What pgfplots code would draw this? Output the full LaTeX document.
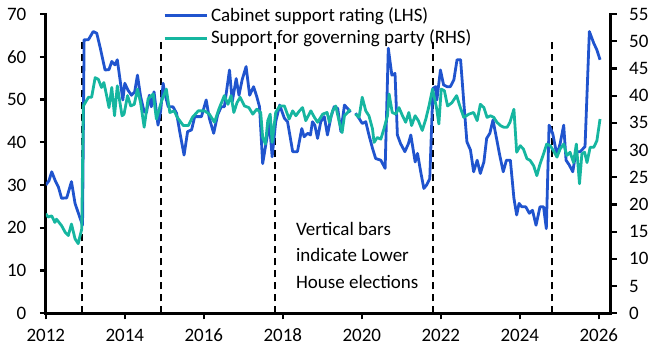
\documentclass[border=0pt]{standalone}
\usepackage{fontspec}
\setmainfont{Carlito}
\usepackage{pgfplots}
\pgfplotsset{compat=1.18}
\definecolor{cblue}{RGB}{32,84,206}
\definecolor{cteal}{RGB}{22,182,160}
\begin{document}
\fontsize{19bp}{23bp}\selectfont
\begin{tikzpicture}
\pgfplotsset{
  common/.style={
    scale only axis, width=564.9bp, height=299.3bp,
    xmin=2012, xmax=2026.3,
    /pgf/number format/assume math mode=true,
    /pgf/number format/1000 sep={},
    font=\fontsize{19bp}{23bp}\selectfont,
    tick align=outside, major tick length=6bp,
    tick style={black, line width=2.2bp},
    axis line style={black, line width=2.8bp, line cap=rect},
    unbounded coords=jump,
  }
}
\begin{axis}[common, name=lhs,
  ymin=0, ymax=70, ytick={0,10,...,70},
  axis x line*=bottom, axis y line*=left,
  xtick={2012,2014,...,2026},
  yticklabel style={xshift=-7bp},
  xticklabel style={yshift=-3bp},
]
\addplot[black, line width=2.2bp, dash pattern=on 7bp off 5bp] coordinates {
(2012.92,0) (2012.92,63.64) (2012.93,nan)
(2014.92,0) (2014.92,63.64) (2014.93,nan)
(2017.80,0) (2017.80,63.64) (2017.81,nan)
(2021.81,0) (2021.81,63.64) (2021.82,nan)
(2024.82,0) (2024.82,63.64)};
\addplot[cblue, line width=2.8bp, line join=round] coordinates {
(2012.00,30) (2012.08,31) (2012.15,33.1) (2012.24,31) (2012.32,29.5) (2012.40,26.9) (2012.53,27) (2012.65,30.8) (2012.74,25.7) (2012.87,22.2) (2012.93,20.6) (2012.97,64) (2013.08,64) (2013.20,65.9) (2013.29,65.5) (2013.38,62) (2013.50,56.9) (2013.60,57) (2013.67,58.9) (2013.75,58.1) (2013.81,59.3) (2013.95,49.9) (2014.00,53.8) (2014.08,52.2) (2014.17,51) (2014.25,51.8) (2014.32,55.7) (2014.40,50.7) (2014.49,47.1) (2014.55,47) (2014.62,51) (2014.67,48.3) (2014.74,51.8) (2014.84,44) (2014.91,47.5) (2014.97,53.8) (2015.01,51.5) (2015.10,48.3) (2015.22,48.3) (2015.31,46.8) (2015.39,42.5) (2015.50,37) (2015.59,42.5) (2015.69,42.9) (2015.77,46) (2015.94,46) (2016.06,49.9) (2016.14,45.6) (2016.25,42.1) (2016.35,46.4) (2016.44,48.3) (2016.52,48.3) (2016.65,56.9) (2016.72,49.5) (2016.82,54.9) (2016.89,51) (2016.97,54.6) (2017.07,57.7) (2017.16,51) (2017.26,53) (2017.34,50.7) (2017.41,48.3) (2017.49,35) (2017.58,40.1) (2017.66,44.4) (2017.73,36.6) (2017.82,44.8) (2017.92,48.7) (2018.04,45.6) (2018.12,44.8) (2018.25,37.8) (2018.37,37.8) (2018.48,43.2) (2018.54,41.3) (2018.63,42.1) (2018.70,41.7) (2018.75,44.8) (2018.81,44) (2018.88,40.9) (2018.96,44.8) (2019.05,46) (2019.13,41.7) (2019.22,46) (2019.30,48.3) (2019.39,47.9) (2019.47,42.5) (2019.56,48.7) (2019.64,47.9) (2019.71,47) (2019.78,nan) (2019.84,46.8) (2019.93,45.6) (2020.01,44.4) (2020.10,44.8) (2020.18,41.7) (2020.27,38.6) (2020.35,36.2) (2020.48,35.8) (2020.59,33.9) (2020.67,62) (2020.76,55.7) (2020.84,56.1) (2020.90,41.7) (2020.98,39.7) (2021.09,37.8) (2021.18,39.7) (2021.24,41.7) (2021.35,35.4) (2021.41,37.4) (2021.49,33.1) (2021.57,29.2) (2021.64,30) (2021.72,31.5) (2021.80,52.6) (2021.87,53) (2021.90,49.9) (2021.99,56.9) (2022.07,53.4) (2022.16,53) (2022.24,53) (2022.33,54.6) (2022.41,59.3) (2022.50,59.3) (2022.58,49.5) (2022.66,40.1) (2022.75,38.2) (2022.83,33.1) (2022.92,35.8) (2023.00,32.7) (2023.09,35.4) (2023.16,40.9) (2023.24,42.1) (2023.32,45.2) (2023.41,40.9) (2023.49,37) (2023.58,33.1) (2023.66,35.8) (2023.76,35.8) (2023.85,26.9) (2023.92,23) (2023.98,25.7) (2024.05,24.9) (2024.15,24.9) (2024.24,23.4) (2024.32,24.1) (2024.41,20.6) (2024.51,24.9) (2024.60,24.9) (2024.67,19.8) (2024.74,44) (2024.83,42.1) (2024.94,37) (2025.02,39.7) (2025.11,44) (2025.17,35.8) (2025.25,34.7) (2025.34,33.1) (2025.42,37.8) (2025.53,37.8) (2025.65,39) (2025.76,65.9) (2025.87,63.2) (2025.95,61.6) (2026.03,59.3)};
\node[anchor=base west, align=left, inner sep=0pt, font=\fontsize{19bp}{26.5bp}\selectfont] at (axis cs:2018.33,5.9) {Vertical bars\\indicate Lower\\House elections};
\end{axis}
\begin{axis}[common,
  ymin=0, ymax=55, ytick={0,5,...,55},
  axis x line=none, axis y line*=right,
  yticklabel style={xshift=6bp},
  legend cell align=left,
  legend style={at={(0.2075,0.9566)}, anchor=west, draw=none, fill=none,
    inner sep=0pt, row sep=6bp, column sep=3bp,
    nodes={inner sep=0pt},
    font=\fontsize{19bp}{23bp}\selectfont},
  legend image code/.code={\draw[#1] (0bp,0bp) -- (42bp,0bp);},
]
\addlegendimage{cblue, line width=2.8bp}
\addlegendentry{Cabinet support rating (LHS)}
\addplot[cteal, line width=2.8bp, line join=round] coordinates {
(2012.00,18.3) (2012.06,17.7) (2012.15,17.9) (2012.23,16.7) (2012.27,17.3) (2012.40,16.1) (2012.49,14.9) (2012.57,14.3) (2012.65,16.4) (2012.74,13.7) (2012.82,12.8) (2012.91,15.5) (2012.95,38.1) (2013.08,39.7) (2013.16,39.7) (2013.25,43.3) (2013.33,43) (2013.41,41.5) (2013.47,42.4) (2013.54,40) (2013.60,37.8) (2013.67,41.5) (2013.74,36.3) (2013.81,41.8) (2013.93,36.3) (2013.98,36.6) (2014.07,40) (2014.15,38.1) (2014.24,38.4) (2014.32,41.2) (2014.40,38.7) (2014.49,34.2) (2014.59,39.4) (2014.72,40.3) (2014.80,35.7) (2014.93,39) (2015.05,41.2) (2015.14,36.9) (2015.25,37.2) (2015.33,36) (2015.48,34.5) (2015.61,34.5) (2015.71,36) (2015.86,37.2) (2016.02,37.2) (2016.14,36.6) (2016.27,35.1) (2016.38,37.5) (2016.52,40) (2016.61,38.4) (2016.69,40) (2016.76,36.9) (2016.84,38.7) (2016.92,39.7) (2017.03,38.1) (2017.14,37.8) (2017.24,36.6) (2017.34,37.5) (2017.44,36.9) (2017.49,32.3) (2017.56,31.1) (2017.62,35.4) (2017.68,36.6) (2017.73,31.4) (2017.82,36.9) (2017.92,38.1) (2018.04,38.1) (2018.16,35.7) (2018.25,37.2) (2018.33,36.3) (2018.42,37.2) (2018.50,37.8) (2018.58,35.4) (2018.71,37.2) (2018.80,36) (2018.88,35.1) (2019.01,36.6) (2019.12,36.9) (2019.18,35.1) (2019.26,37.2) (2019.34,38.1) (2019.43,35.1) (2019.50,33.2) (2019.56,36.3) (2019.64,36.9) (2019.71,37.5) (2019.78,nan) (2019.84,36.6) (2019.93,36) (2020.01,39.7) (2020.10,37.2) (2020.18,36.3) (2020.27,33.9) (2020.31,31.4) (2020.39,32.3) (2020.48,32) (2020.56,33.9) (2020.65,36.3) (2020.69,40.3) (2020.77,36.9) (2020.86,36.6) (2020.94,37.8) (2021.03,36.3) (2021.11,35.1) (2021.19,36.9) (2021.26,34.5) (2021.35,36.3) (2021.43,35.4) (2021.53,33.6) (2021.62,35.7) (2021.70,38.1) (2021.79,41.2) (2021.89,37.8) (2021.95,34.8) (2022.01,41.2) (2022.09,40.9) (2022.17,38.1) (2022.28,38.7) (2022.40,40) (2022.48,38.1) (2022.58,36) (2022.71,36.6) (2022.83,36.9) (2022.92,35.4) (2023.00,38.4) (2023.09,37.8) (2023.17,36) (2023.26,36.3) (2023.34,36) (2023.42,35.1) (2023.51,34.5) (2023.59,34.2) (2023.68,34.2) (2023.75,35.1) (2023.85,37.5) (2023.92,29.6) (2024.01,30.8) (2024.09,30.2) (2024.18,28.4) (2024.26,28.1) (2024.35,27.1) (2024.43,25.3) (2024.51,27.4) (2024.60,29.3) (2024.68,31.1) (2024.77,30.8) (2024.85,29.9) (2024.94,28.7) (2025.02,30.2) (2025.11,31.1) (2025.19,29) (2025.27,29.6) (2025.36,27.7) (2025.43,31.1) (2025.51,23.8) (2025.57,29.3) (2025.64,29.6) (2025.70,27.7) (2025.78,30.5) (2025.87,30.5) (2025.95,31.7) (2026.03,35.7)};
\addlegendentry{Support for governing party (RHS)}
\end{axis}
\pgfresetboundingbox
\path ([xshift=-45.8bp,yshift=-38.7bp]lhs.south west) rectangle ([xshift=42.3bp,yshift=14bp]lhs.north east);
\end{tikzpicture}
\end{document}
